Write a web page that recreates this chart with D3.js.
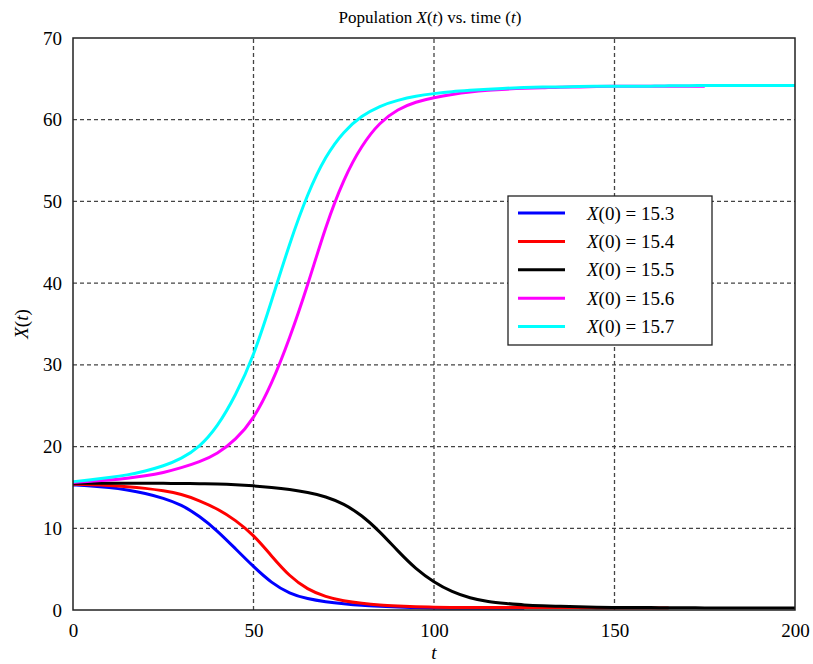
<!DOCTYPE html>
<html>
<head>
<meta charset="utf-8">
<script src="https://cdn.jsdelivr.net/npm/d3@7"></script>
<style>
  body { margin: 0; background: #fff; }
  svg text { font-family: "Liberation Serif", "Times New Roman", serif; fill: #000; }
</style>
</head>
<body>
<svg id="chart"></svg>
<script>
const width = 813;
const height = 664;
const margin = {top: 38, right: 18, bottom: 54, left: 73};

const svg = d3.select('#chart')
    .attr('width', width)
    .attr('height', height);

// time samples (t), every 5 units
const times = [0, 5, 10, 15, 20, 25, 30, 35, 40, 45, 50, 55, 60, 65, 70, 75, 80, 85, 90, 95, 100,
    105, 110, 115, 120, 125, 130, 135, 140, 145, 150, 155, 160, 165, 170, 175, 180, 185, 190, 195, 200];

// values; shorter arrays stop earlier, as in the source image
const x153 = [15.3, 15.2, 15.0, 14.7, 14.3, 13.7, 12.9, 11.5, 9.7, 7.5, 5.3, 3.3, 2.0, 1.35, 1.0, 0.75, 0.55, 0.45, 0.35, 0.3, 0.25,
    0.2, 0.2, 0.2, 0.2, 0.2];
const x154 = [15.4, 15.35, 15.25, 15.1, 14.9, 14.6, 14.2, 13.4, 12.4, 11.0, 9.2, 6.6, 4.1, 2.5, 1.6, 1.1, 0.8, 0.6, 0.5, 0.4, 0.35,
    0.3, 0.3, 0.3, 0.3, 0.3, 0.3, 0.3, 0.3, 0.25, 0.25, 0.25, 0.25, 0.25];
const x155 = [15.5, 15.5, 15.5, 15.5, 15.5, 15.5, 15.48, 15.46, 15.43, 15.35, 15.2, 15.0, 14.75, 14.4, 13.9, 13.0, 11.6, 9.6, 7.2, 5.0, 3.4,
    2.2, 1.45, 1.0, 0.8, 0.6, 0.5, 0.45, 0.4, 0.35, 0.3, 0.3, 0.3, 0.28, 0.27, 0.26, 0.25, 0.25, 0.25, 0.25, 0.25];
const x156 = [15.6, 15.75, 15.9, 16.1, 16.4, 16.8, 17.4, 18.1, 19.1, 20.8, 23.3, 27.6, 33.2, 39.7, 47.0, 52.8, 56.9, 59.7, 61.3, 62.2, 62.7,
    63.1, 63.4, 63.6, 63.75, 63.85, 63.9, 64.0, 64.0, 64.05, 64.1, 64.1, 64.1, 64.1, 64.1, 64.1];
const x157 = [15.7, 15.95, 16.2, 16.5, 17.0, 17.6, 18.5, 19.9, 22.4, 26.2, 31.0, 37.8, 44.9, 51.0, 55.6, 58.6, 60.5, 61.7, 62.4, 62.9, 63.2,
    63.45, 63.6, 63.75, 63.85, 63.95, 64.0, 64.0, 64.05, 64.1, 64.1, 64.1, 64.1, 64.15, 64.15, 64.2, 64.2, 64.2, 64.2, 64.2, 64.2];

const labels = ['15.3', '15.4', '15.5', '15.6', '15.7'];
const colors = ['#0000ff', '#ff0000', '#000000', '#ff00ff', '#00ffff'];
const series = [x153, x154, x155, x156, x157];

const xTicks = [0, 50, 100, 150, 200];
const yTicks = [0, 10, 20, 30, 40, 50, 60, 70];

const x = d3.scaleLinear().domain([0, 200]).range([margin.left, width - margin.right]);
const y = d3.scaleLinear().domain([0, 70]).range([height - margin.bottom, margin.top]);

// grid
svg.append('g').selectAll('line')
    .data(xTicks.slice(1, -1))
    .join('line')
    .attr('x1', d => x(d)).attr('x2', d => x(d))
    .attr('y1', y(0)).attr('y2', y(70))
    .attr('stroke', '#444').attr('stroke-width', 1.3).attr('stroke-dasharray', '4,3');

svg.append('g').selectAll('line')
    .data(yTicks.slice(1, -1))
    .join('line')
    .attr('x1', x(0)).attr('x2', x(200))
    .attr('y1', d => y(d)).attr('y2', d => y(d))
    .attr('stroke', '#444').attr('stroke-width', 1.3).attr('stroke-dasharray', '4,3');

// curves
const line = d3.line()
    .x((d, i) => x(times[i]))
    .y(d => y(d))
    .curve(d3.curveBasis);

svg.append('g').selectAll('path')
    .data(series)
    .join('path')
    .attr('d', d => line(d))
    .attr('fill', 'none')
    .attr('stroke', (d, i) => colors[i])
    .attr('stroke-width', 3);

// frame
svg.append('rect')
    .attr('x', x(0)).attr('y', y(70))
    .attr('width', x(200) - x(0)).attr('height', y(0) - y(70))
    .attr('fill', 'none').attr('stroke', '#222').attr('stroke-width', 1.5);

// axes (labels only, like the source)
const xAxis = d3.axisBottom(x).tickValues(xTicks).tickSize(0).tickPadding(14);
svg.append('g')
    .attr('transform', `translate(0,${y(0)})`)
    .call(xAxis)
    .attr('font-family', null)
    .call(g => g.select('.domain').remove())
    .selectAll('text')
    .style('font-size', '19px');

const yAxis = d3.axisLeft(y).tickValues(yTicks).tickSize(0).tickPadding(11);
svg.append('g')
    .attr('transform', `translate(${x(0)},0)`)
    .call(yAxis)
    .attr('font-family', null)
    .call(g => g.select('.domain').remove())
    .selectAll('text')
    .style('font-size', '19px');

// title
const title = svg.append('text')
    .attr('x', 430).attr('y', 23)
    .attr('text-anchor', 'middle')
    .style('font-size', '17px');
title.append('tspan').text('Population ');
title.append('tspan').attr('font-style', 'italic').text('X');
title.append('tspan').text('(');
title.append('tspan').attr('font-style', 'italic').text('t');
title.append('tspan').text(') vs. time (');
title.append('tspan').attr('font-style', 'italic').text('t');
title.append('tspan').text(')');

// axis titles
svg.append('text')
    .attr('x', x(100)).attr('y', 659)
    .attr('text-anchor', 'middle')
    .style('font-size', '19px').style('font-style', 'italic')
    .text('t');

const yl = svg.append('text')
    .attr('transform', `translate(28,${(y(0) + y(70)) / 2}) rotate(-90)`)
    .attr('text-anchor', 'middle')
    .style('font-size', '19px');
yl.append('tspan').attr('font-style', 'italic').text('X');
yl.append('tspan').text('(');
yl.append('tspan').attr('font-style', 'italic').text('t');
yl.append('tspan').text(')');

// legend
const legend = svg.append('g').attr('transform', 'translate(508,196)');
legend.append('rect')
    .attr('width', 204).attr('height', 149)
    .attr('fill', '#fff').attr('stroke', '#222').attr('stroke-width', 1.3);

const item = legend.selectAll('g.item')
    .data(labels)
    .join('g')
    .attr('class', 'item')
    .attr('transform', (d, i) => `translate(0,${17 + i * 28.4})`);

item.append('line')
    .attr('x1', 10).attr('x2', 57)
    .attr('stroke', (d, i) => colors[i]).attr('stroke-width', 3);

const lt = item.append('text')
    .attr('x', 79).attr('y', 6.5)
    .style('font-size', '19px');
lt.append('tspan').attr('font-style', 'italic').text('X');
lt.append('tspan').text(d => `(0) = ${d}`);
</script>
</body>
</html>
